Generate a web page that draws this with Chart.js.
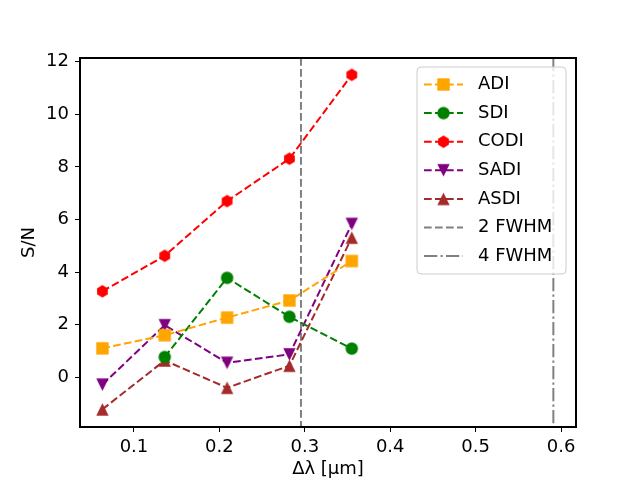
<!DOCTYPE html>
<html>
<head>
<meta charset="utf-8">
<script src="https://cdn.jsdelivr.net/npm/chart.js@4.4.1/dist/chart.umd.min.js"></script>
<style>
  html, body { margin: 0; padding: 0; background: #fff; }
</style>
</head>
<body>
<canvas id="myChart" width="640" height="480"></canvas>
<script>
//Separation in wavelength for each point
const dlam = [0.063, 0.136, 0.209, 0.282, 0.355];

//S/N for each method (SDI has no value at the first separation)
const adi  = [1.10, 1.60, 2.27, 2.92, 4.42];
const sdi  = [null, 0.77, 3.78, 2.30, 1.09];
const codi = [3.27, 4.62, 6.70, 8.31, 11.50];
const sadi = [-0.28, 1.98, 0.55, 0.87, 5.83];
const asdi = [-1.22, 0.64, -0.40, 0.44, 5.31];

//Reference lines
const fwhm2 = 0.2955;
const fwhm4 = 0.591;

//Tick labels
const xTicks = [0.1, 0.2, 0.3, 0.4, 0.5, 0.6];
const yTicks = [0, 2, 4, 6, 8, 10, 12];

const FONT = 'DejaVu Sans';
const FS = 18;
const LW = 2;
const DASH = [7.7, 3.3];
const DASHDOT = [13.3, 3.3, 2.1, 3.3];

//Small canvas markers so the chart and the legend use the same shapes
function makeMarker(shape, color) {
    const c = document.createElement('canvas');
    c.width = 15; c.height = 15;
    const g = c.getContext('2d');
    const m = 7.5, r = 6.2;
    g.fillStyle = color;
    g.beginPath();
    if (shape === 'square') {
        g.rect(m - r, m - r, 2 * r, 2 * r);
    } else if (shape === 'circle') {
        g.arc(m, m, r, 0, Math.PI * 2);
    } else if (shape === 'hexagon') {
        for (let k = 0; k < 6; k++) {
            const a = Math.PI / 2 + k * Math.PI / 3;
            const px = m + r * Math.cos(a), py = m - r * Math.sin(a);
            if (k === 0) g.moveTo(px, py); else g.lineTo(px, py);
        }
        g.closePath();
    } else if (shape === 'up') {
        g.moveTo(m, m - r); g.lineTo(m - r, m + r); g.lineTo(m + r, m + r); g.closePath();
    } else if (shape === 'down') {
        g.moveTo(m, m + r); g.lineTo(m - r, m - r); g.lineTo(m + r, m - r); g.closePath();
    }
    g.fill();
    return c;
}

function series(label, values, color, shape) {
    return {
        label: label,
        data: dlam.map((x, i) => ({x: x, y: values[i]})),
        showLine: true,
        borderColor: color,
        backgroundColor: color,
        borderWidth: LW,
        borderDash: DASH,
        pointStyle: makeMarker(shape, color),
        pointRadius: 7,
        pointHoverRadius: 7,
        spanGaps: false
    };
}

const datasets = [
    series('ADI', adi, '#FFA500', 'square'),
    series('SDI', sdi, '#008000', 'circle'),
    series('CODI', codi, '#FF0000', 'hexagon'),
    series('SADI', sadi, '#800080', 'down'),
    series('ASDI', asdi, '#A52A2A', 'up')
];

const vlines = [
    {label: '2 FWHM', x: fwhm2, dash: DASH},
    {label: '4 FWHM', x: fwhm4, dash: DASHDOT}
];

//Vertical lines, frame and legend drawn on top of the chart
const extras = {
    id: 'extras',
    beforeDatasetsDraw(chart) {
        const {ctx, chartArea, scales} = chart;
        ctx.save();
        ctx.strokeStyle = '#808080';
        ctx.lineWidth = LW;
        vlines.forEach(v => {
            const px = scales.x.getPixelForValue(v.x);
            ctx.setLineDash(v.dash);
            ctx.beginPath();
            ctx.moveTo(px, chartArea.top);
            ctx.lineTo(px, chartArea.bottom);
            ctx.stroke();
        });
        ctx.restore();
    },
    afterDraw(chart) {
        const {ctx, chartArea} = chart;
        ctx.save();
        //frame
        ctx.strokeStyle = '#000';
        ctx.lineWidth = 2;
        ctx.setLineDash([]);
        ctx.strokeRect(chartArea.left, chartArea.top,
            chartArea.right - chartArea.left, chartArea.bottom - chartArea.top);

        //legend box
        const bx = 417, by = 67, bw = 149, bh = 207, rad = 4;
        ctx.beginPath();
        ctx.moveTo(bx + rad, by);
        ctx.arcTo(bx + bw, by, bx + bw, by + bh, rad);
        ctx.arcTo(bx + bw, by + bh, bx, by + bh, rad);
        ctx.arcTo(bx, by + bh, bx, by, rad);
        ctx.arcTo(bx, by, bx + bw, by, rad);
        ctx.closePath();
        ctx.fillStyle = 'rgba(255,255,255,0.8)';
        ctx.fill();
        ctx.strokeStyle = '#cccccc';
        ctx.lineWidth = 1;
        ctx.stroke();

        const rows = datasets.map(d => ({label: d.label, color: d.borderColor, dash: DASH, marker: d.pointStyle}))
            .concat(vlines.map(v => ({label: v.label, color: '#808080', dash: v.dash, marker: null})));
        ctx.font = FS + 'px "' + FONT + '"';
        ctx.textBaseline = 'middle';
        rows.forEach((r, i) => {
            const y = 84.5 + i * 28.6;
            ctx.strokeStyle = r.color;
            ctx.lineWidth = LW;
            ctx.setLineDash(r.dash);
            ctx.beginPath();
            ctx.moveTo(424, y);
            ctx.lineTo(463, y);
            ctx.stroke();
            if (r.marker) ctx.drawImage(r.marker, 443.5 - r.marker.width / 2, y - r.marker.height / 2);
            ctx.fillStyle = '#000';
            ctx.fillText(r.label, 478, y);
        });
        ctx.restore();
    }
};

Chart.defaults.font.family = FONT;
Chart.defaults.font.size = FS;
Chart.defaults.color = '#000';

const ctx = document.getElementById('myChart').getContext('2d');

const myChart = new Chart(ctx, {
    type: 'scatter',
    data: {datasets: datasets},
    plugins: [extras],
    options: {
        responsive: false,
        animation: false,
        devicePixelRatio: 1,
        layout: {
            autoPadding: false,
            padding: {left: 0, right: 64, top: 58, bottom: 0}
        },
        plugins: {
            legend: {display: false},
            tooltip: {enabled: false}
        },
        scales: {
            x: {
                type: 'linear',
                min: 0.0368,
                max: 0.6175,
                afterBuildTicks: s => { s.ticks = xTicks.map(v => ({value: v})); },
                afterFit: s => { s.height = 53; },
                ticks: {
                    padding: 5,
                    maxRotation: 0,
                    callback: v => v.toFixed(1)
                },
                grid: {drawOnChartArea: false, drawTicks: true, tickLength: 5, color: '#000', lineWidth: 1},
                border: {display: false},
                title: {display: true, text: 'Δλ [μm]', padding: {top: 0, bottom: 0}}
            },
            y: {
                type: 'linear',
                min: -1.89,
                max: 12.14,
                afterBuildTicks: s => { s.ticks = yTicks.map(v => ({value: v})); },
                afterFit: s => { s.width = 80; },
                ticks: {
                    padding: 6,
                    callback: v => String(v)
                },
                grid: {drawOnChartArea: false, drawTicks: true, tickLength: 5, color: '#000', lineWidth: 1},
                border: {display: false},
                title: {display: true, text: 'S/N', padding: {top: 19, bottom: 0}}
            }
        }
    }
});
</script>
</body>
</html>
